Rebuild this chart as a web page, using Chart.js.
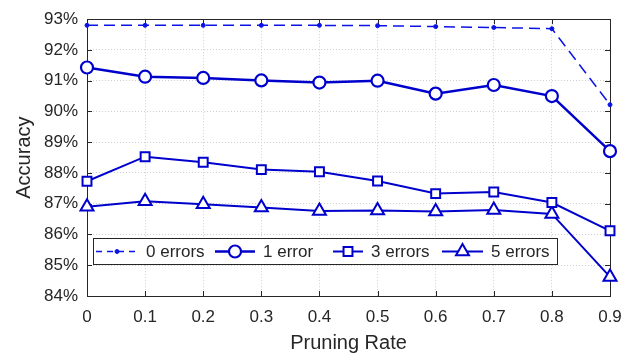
<!DOCTYPE html>
<html>
<head>
<meta charset="utf-8">
<script src="https://cdn.jsdelivr.net/npm/chart.js@4.4.1/dist/chart.umd.min.js"></script>
<style>
  html, body { margin: 0; padding: 0; background: #fff; }
  canvas { display: block; }
</style>
</head>
<body>
<canvas id="accChart" width="637" height="357"></canvas>
<script>
  // values
  const pruningRate = [0, 0.1, 0.2, 0.3, 0.4, 0.5, 0.6, 0.7, 0.8, 0.9];
  const acc0 = [92.8, 92.8, 92.8, 92.8, 92.8, 92.79, 92.76, 92.73, 92.69, 90.22];
  const acc1 = [91.43, 91.13, 91.09, 91.01, 90.94, 91.0, 90.58, 90.86, 90.5, 88.71];
  const acc3 = [87.73, 88.53, 88.35, 88.11, 88.04, 87.74, 87.33, 87.38, 87.04, 86.12];
  const acc5 = [86.9, 87.08, 86.98, 86.88, 86.76, 86.78, 86.75, 86.8, 86.67, 84.62];
  const seriesNames = ['0 errors', '1 error', '3 errors', '5 errors'];
  const xTicks = [0, 0.1, 0.2, 0.3, 0.4, 0.5, 0.6, 0.7, 0.8, 0.9];
  const yTicks = [84, 85, 86, 87, 88, 89, 90, 91, 92, 93];

  const FONT = "'Liberation Sans', Arial, Helvetica, sans-serif";
  const TXT = '#262626';
  const BLUE = '#0000cc';

  function pts(vals) {
    return vals.map((v, i) => ({ x: pruningRate[i], y: v }));
  }

  const datasets = [
    { label: seriesNames[0], data: pts(acc0), borderColor: '#0a14e6', backgroundColor: '#0a14e6',
      borderWidth: 1.5, borderDash: [11, 6], pointStyle: 'circle', pointRadius: 2, pointBorderWidth: 1 },
    { label: seriesNames[1], data: pts(acc1), borderColor: BLUE, backgroundColor: '#fff',
      borderWidth: 2.5, pointStyle: 'circle', pointRadius: 6, pointBorderWidth: 2.2 },
    { label: seriesNames[2], data: pts(acc3), borderColor: BLUE, backgroundColor: '#fff',
      borderWidth: 2, pointStyle: 'rect', pointRadius: 6.3, pointBorderWidth: 2 },
    { label: seriesNames[3], data: pts(acc5), borderColor: BLUE, backgroundColor: '#fff',
      borderWidth: 2, pointStyle: 'triangle', pointRadius: 7.5, pointBorderWidth: 2 }
  ];
  datasets.forEach(d => {
    d.tension = 0; d.fill = false; d.clip = false; d.pointHoverRadius = d.pointRadius;
  });

  // box frame, inward ticks and legend inside the axes
  const matlabAxes = {
    id: 'matlabAxes',
    beforeDatasetsDraw(chart) {
      const ctx = chart.ctx;
      const a = chart.chartArea;
      const xs = chart.scales.x, ys = chart.scales.y;
      ctx.save();
      ctx.strokeStyle = TXT;
      ctx.lineWidth = 1;
      ctx.beginPath();
      xTicks.forEach(v => {
        const px = Math.round(xs.getPixelForValue(v)) + 0.5;
        ctx.moveTo(px, a.bottom); ctx.lineTo(px, a.bottom - 5);
        ctx.moveTo(px, a.top); ctx.lineTo(px, a.top + 5);
      });
      yTicks.forEach(v => {
        const py = Math.round(ys.getPixelForValue(v)) + 0.5;
        ctx.moveTo(a.left, py); ctx.lineTo(a.left + 5, py);
        ctx.moveTo(a.right, py); ctx.lineTo(a.right - 5, py);
      });
      ctx.stroke();
      ctx.strokeRect(Math.round(a.left) + 0.5, Math.round(a.top) + 0.5,
        Math.round(a.right - a.left), Math.round(a.bottom - a.top));
      ctx.restore();
    },
    afterDraw(chart) {
      const ctx = chart.ctx;
      ctx.save();
      const box = { x: 93.5, y: 238.5, w: 464, h: 26 };
      ctx.fillStyle = '#fff';
      ctx.fillRect(box.x, box.y, box.w, box.h);
      ctx.strokeStyle = TXT;
      ctx.lineWidth = 1;
      ctx.strokeRect(box.x, box.y, box.w, box.h);
      const cy = box.y + box.h / 2;
      const starts = [96, 215, 333, 442];
      const lens = [42, 40, 30, 41];
      ctx.font = '17px ' + FONT;
      ctx.textBaseline = 'middle';
      datasets.forEach((d, i) => {
        const x0 = starts[i], x1 = x0 + lens[i];
        ctx.save();
        ctx.strokeStyle = d.borderColor;
        ctx.lineWidth = d.borderWidth;
        ctx.setLineDash(d.borderDash ? [6, 5] : []);
        ctx.beginPath();
        ctx.moveTo(x0, cy); ctx.lineTo(x1, cy);
        ctx.stroke();
        ctx.setLineDash([]);
        ctx.fillStyle = d.backgroundColor;
        ctx.lineWidth = d.pointBorderWidth;
        Chart.helpers.drawPoint(ctx, { pointStyle: d.pointStyle, radius: d.pointRadius,
          borderWidth: d.pointBorderWidth, rotation: 0 }, (x0 + x1) / 2, cy);
        ctx.restore();
        ctx.fillStyle = TXT;
        ctx.fillText(d.label, x1 + 8, cy + 1);
      });
      ctx.restore();
    }
  };

  new Chart(document.getElementById('accChart'), {
    type: 'line',
    data: { datasets: datasets },
    plugins: [matlabAxes],
    options: {
      responsive: false,
      animation: false,
      layout: { padding: { left: 0, right: 27, top: 17, bottom: 0 } },
      plugins: { legend: { display: false }, tooltip: { enabled: false } },
      scales: {
        x: {
          type: 'linear', min: 0, max: 0.9,
          afterBuildTicks: s => { s.ticks = xTicks.map(v => ({ value: v })); },
          afterFit: s => { s.height = 61; },
          grid: { color: '#cfcfcf', lineWidth: 1, drawTicks: false },
          border: { display: false, dash: [1, 2] },
          ticks: { color: TXT, font: { family: FONT, size: 17 }, padding: 11, maxRotation: 0,
            callback: v => String(v) },
          title: { display: true, text: 'Pruning Rate', color: TXT,
            font: { family: FONT, size: 20 }, padding: { top: 0, bottom: 2 } }
        },
        y: {
          type: 'linear', min: 84, max: 93,
          afterBuildTicks: s => { s.ticks = yTicks.map(v => ({ value: v })); },
          afterFit: s => { s.width = 87; },
          grid: { color: '#cfcfcf', lineWidth: 1, drawTicks: false },
          border: { display: false, dash: [1, 2] },
          ticks: { color: TXT, font: { family: FONT, size: 17 }, padding: 9,
            callback: v => v + '%' },
          title: { display: true, text: 'Accuracy', color: TXT,
            font: { family: FONT, size: 20 }, padding: { top: 12, bottom: 0 } }
        }
      }
    }
  });
</script>
</body>
</html>
